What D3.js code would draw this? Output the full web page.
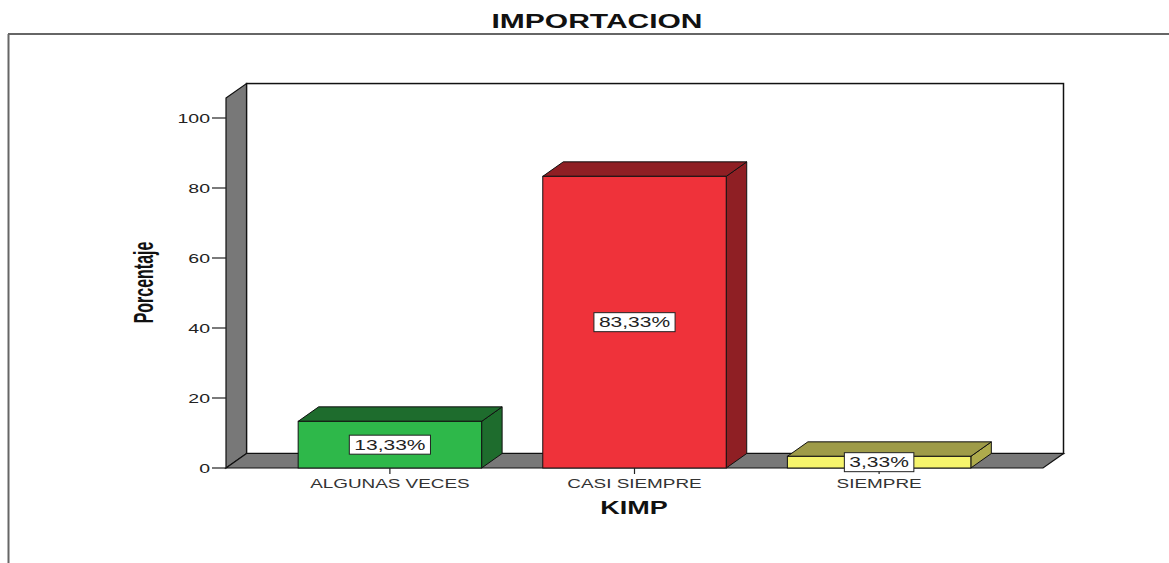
<!DOCTYPE html>
<html>
<head>
<meta charset="utf-8">
<script src="https://cdn.jsdelivr.net/npm/d3@7"></script>
<style>
  html, body { margin: 0; padding: 0; background: #fff; }
  svg { display: block; }
  text { font-family: "Liberation Sans", Arial, sans-serif; }
</style>
</head>
<body>
<svg id="chart" width="1169" height="563"></svg>
<script>
// ---- data ----
const categories = ["ALGUNAS VECES", "CASI SIEMPRE", "SIEMPRE"];
const percentages = [13.33, 83.33, 3.33];
const valueLabels = ["13,33%", "83,33%", "3,33%"];
const yTicks = [0, 20, 40, 60, 80, 100];
const frontColors = ["#2eb84a", "#ef323a", "#f6f46c"];
const topColors   = ["#1e6c2d", "#8f1f24", "#9e9b48"];
const sideColors  = ["#1e6c2d", "#8f1f24", "#aeab4c"];
const chartTitle = "IMPORTACION";
const xTitle = "KIMP";
const yTitle = "Porcentaje";

// ---- layout ----
const SX = 1.5;           // horizontal stretch of glyphs seen in the reference
const DX = 20.5, DY = -14.5; // 3D depth offset
const svg = d3.select("#chart");

const y = d3.scaleLinear().domain([0, 100]).range([468, 118]);
const x = d3.scaleBand().domain(categories).range([226, 1043])
  .paddingInner(0.25).paddingOuter(0.295);
const yTopVal = 105.7;

function addText(g, px, py, str, size, weight, anchor, fill, rotate, sx) {
  const s = sx || SX;
  const t = g.append("text")
    .attr("transform", `translate(${px},${py}) scale(${s},1)` + (rotate ? " rotate(-90)" : ""))
    .attr("text-anchor", anchor || "middle")
    .attr("font-size", size)
    .attr("font-weight", weight || "normal")
    .attr("fill", fill || "#222")
    .text(str);
  return t;
}

// frame lines
svg.append("line").attr("x1", 8).attr("x2", 1169).attr("y1", 34).attr("y2", 34)
  .attr("stroke", "#333").attr("stroke-width", 1.5);
svg.append("line").attr("x1", 8.5).attr("x2", 8.5).attr("y1", 34).attr("y2", 563)
  .attr("stroke", "#666").attr("stroke-width", 2);

// title
addText(svg, 597, 28, chartTitle, 20, "bold", "middle", "#111");

const x0 = 226, x1 = 1043;
const yb = y(0), yt = y(yTopVal);

// back wall
svg.append("rect").attr("x", x0 + DX).attr("y", yt + DY)
  .attr("width", x1 - x0).attr("height", yb - yt)
  .attr("fill", "#fff").attr("stroke", "#111").attr("stroke-width", 1.5);

// left wall
svg.append("path")
  .attr("d", `M${x0},${yt} L${x0 + DX},${yt + DY} L${x0 + DX},${yb + DY} L${x0},${yb} Z`)
  .attr("fill", "#787878").attr("stroke", "#111").attr("stroke-width", 1.2);

// floor
svg.append("path")
  .attr("d", `M${x0},${yb} L${x0 + DX},${yb + DY} L${x1 + DX},${yb + DY} L${x1},${yb} Z`)
  .attr("fill", "#787878").attr("stroke", "#111").attr("stroke-width", 1.2);

// y ticks
const yAxisG = svg.append("g");
yTicks.forEach(v => {
  yAxisG.append("line").attr("x1", 212).attr("x2", x0).attr("y1", y(v)).attr("y2", y(v))
    .attr("stroke", "#222").attr("stroke-width", 1.2);
  addText(yAxisG, 210, y(v) + 5, String(v), 13, "normal", "end", "#222");
});

// bars
const bw = x.bandwidth();
categories.forEach((c, i) => {
  const bx = x(c), v = percentages[i];
  const top = y(v);
  const g = svg.append("g");
  g.append("path")
    .attr("d", `M${bx + bw},${top} L${bx + bw + DX},${top + DY} L${bx + bw + DX},${yb + DY} L${bx + bw},${yb} Z`)
    .attr("fill", sideColors[i]).attr("stroke", "#111").attr("stroke-width", 1);
  g.append("path")
    .attr("d", `M${bx},${top} L${bx + DX},${top + DY} L${bx + bw + DX},${top + DY} L${bx + bw},${top} Z`)
    .attr("fill", topColors[i]).attr("stroke", "#111").attr("stroke-width", 1);
  g.append("rect").attr("x", bx).attr("y", top).attr("width", bw).attr("height", yb - top)
    .attr("fill", frontColors[i]).attr("stroke", "#111").attr("stroke-width", 1);
});

// x ticks and labels
categories.forEach(c => {
  const cx = x(c) + bw / 2;
  svg.append("line").attr("x1", cx).attr("x2", cx).attr("y1", yb).attr("y2", yb + 6)
    .attr("stroke", "#222").attr("stroke-width", 1.2);
  addText(svg, cx, 488, c, 12.6, "normal", "middle", "#333");
});

// value labels
categories.forEach((c, i) => {
  const cx = x(c) + bw / 2;
  const cy = (y(percentages[i]) + yb) / 2;
  const g = svg.append("g");
  const rect = g.append("rect");
  const t = addText(g, cx, cy + 5, valueLabels[i], 14, "normal", "middle", "#222");
  const w = t.node().getComputedTextLength() * SX + 10;
  rect.attr("x", cx - w / 2).attr("y", cy - 9.5).attr("width", w).attr("height", 19)
    .attr("fill", "#fff").attr("stroke", "#222").attr("stroke-width", 1);
});

// axis titles
addText(svg, 634, 514, xTitle, 18, "bold", "middle", "#111");
addText(svg, 153, 282.5, yTitle, 16, "bold", "middle", "#111", true, 1.7);
</script>
</body>
</html>
